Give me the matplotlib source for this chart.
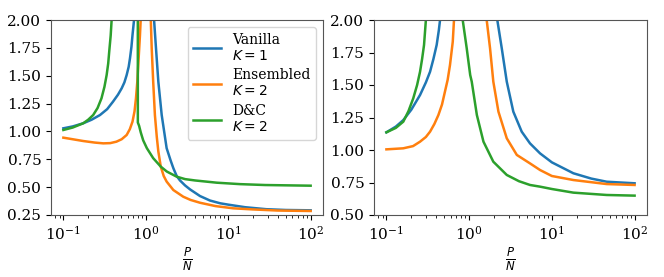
import matplotlib
matplotlib.use("Agg")
import matplotlib.pyplot as plt

plt.rcParams['font.family'] = ['DejaVu Serif']
plt.rcParams['mathtext.fontset'] = 'dejavusans'

# ---------------- Left panel data ----------------
L_van_x1 = [0.1, 0.13, 0.174, 0.22, 0.278, 0.34, 0.40, 0.46, 0.51, 0.55, 0.586, 0.62, 0.643, 0.67, 0.69, 0.72, 0.75]
L_van_y1 = [1.028, 1.045, 1.073, 1.105, 1.147, 1.20, 1.267, 1.33, 1.387, 1.44, 1.506, 1.58, 1.656, 1.76, 1.865, 2.0, 2.2]
L_van_x2 = [1.22, 1.26, 1.33, 1.42, 1.56, 1.79, 2.0, 2.16, 2.37, 2.6, 3.0, 3.44, 4.55, 6.0, 8.0, 10, 16, 29, 50, 100]
L_van_y2 = [2.3, 2.0, 1.746, 1.446, 1.147, 0.85, 0.74, 0.67, 0.60, 0.56, 0.515, 0.48, 0.42, 0.38, 0.355, 0.343, 0.32, 0.302, 0.295, 0.292]

L_ens_x1 = [0.1, 0.174, 0.24, 0.305, 0.37, 0.44, 0.51, 0.586, 0.64, 0.69, 0.73, 0.76, 0.79, 0.81, 0.85, 0.867, 0.89]
L_ens_y1 = [0.944, 0.914, 0.90, 0.893, 0.895, 0.908, 0.93, 0.968, 1.02, 1.088, 1.18, 1.297, 1.45, 1.596, 1.865, 2.0, 2.2]
L_ens_x2 = [1.12, 1.15, 1.18, 1.23, 1.29, 1.36, 1.42, 1.52, 1.65, 1.79, 2.16, 2.85, 3.5, 4.55, 7.0, 11.5, 20, 40, 100]
L_ens_y2 = [2.3, 2.0, 1.746, 1.446, 1.147, 0.95, 0.82, 0.684, 0.60, 0.55, 0.474, 0.414, 0.385, 0.36, 0.33, 0.31, 0.30, 0.29, 0.286]

L_dc_x1 = [0.1, 0.13, 0.174, 0.20, 0.23, 0.26, 0.29, 0.315, 0.335, 0.35, 0.36, 0.375, 0.385, 0.40]
L_dc_y1 = [1.013, 1.035, 1.073, 1.105, 1.147, 1.21, 1.297, 1.40, 1.506, 1.61, 1.716, 1.86, 2.0, 2.3]
L_dc_x2 = [0.80, 0.801, 0.83, 0.87, 0.93, 1.03, 1.23, 1.52, 1.8, 2.37, 3.0, 3.96, 7.25, 13.9, 28, 100]
L_dc_y2 = [2.3, 1.08, 1.05, 0.99, 0.92, 0.85, 0.76, 0.684, 0.64, 0.594, 0.572, 0.56, 0.54, 0.527, 0.519, 0.513]

# ---------------- Right panel data ----------------
R_van_x1 = [0.1, 0.13, 0.16, 0.2, 0.255, 0.3, 0.337, 0.37, 0.405, 0.43, 0.445, 0.46]
R_van_y1 = [1.136, 1.18, 1.23, 1.31, 1.423, 1.52, 1.602, 1.70, 1.808, 1.92, 2.0, 2.1]
R_van_x2 = [2.1, 2.19, 2.48, 2.85, 3.42, 4.32, 5.44, 7.2, 10, 18.2, 30, 46, 100]
R_van_y2 = [2.1, 2.0, 1.782, 1.526, 1.295, 1.141, 1.051, 0.974, 0.905, 0.821, 0.78, 0.756, 0.744]

R_ens_x1 = [0.1, 0.16, 0.21, 0.255, 0.3, 0.337, 0.38, 0.425, 0.47, 0.51, 0.55, 0.587, 0.634, 0.656, 0.68]
R_ens_y1 = [1.005, 1.013, 1.03, 1.064, 1.10, 1.141, 1.20, 1.269, 1.35, 1.449, 1.54, 1.654, 1.833, 2.0, 2.15]
R_ens_x2 = [1.58, 1.63, 1.79, 1.96, 2.26, 2.85, 3.77, 5.44, 7.2, 10, 18.2, 46, 100]
R_ens_y2 = [2.15, 2.0, 1.782, 1.526, 1.295, 1.090, 0.962, 0.897, 0.846, 0.80, 0.769, 0.738, 0.731]

R_dc_x1 = [0.1, 0.13, 0.16, 0.185, 0.211, 0.235, 0.255, 0.27, 0.285, 0.30, 0.31]
R_dc_y1 = [1.136, 1.17, 1.218, 1.30, 1.397, 1.50, 1.602, 1.70, 1.808, 2.0, 2.15]
R_dc_x2 = [0.82, 0.836, 0.935, 1.03, 1.075, 1.24, 1.49, 1.96, 2.85, 4.0, 5.44, 7.2, 10, 18.2, 46, 100]
R_dc_y2 = [2.1, 2.0, 1.782, 1.577, 1.526, 1.269, 1.064, 0.910, 0.808, 0.76, 0.731, 0.718, 0.70, 0.672, 0.654, 0.649]

labels = ["Vanilla\n$K=1$", "Ensembled\n$K=2$", "D&C\n$K=2$"]
colors = ["#1f77b4", "#ff7f0e", "#2ca02c"]

fig = plt.figure(figsize=(6.64, 2.77), dpi=100)
W, H = 664, 277
axL = fig.add_axes([51 / W, 1 - 215 / H, 272 / W, 195 / H])
axR = fig.add_axes([374 / W, 1 - 215 / H, 273 / W, 195 / H])

lw = 1.8
left_series = [
    ((L_van_x1, L_van_y1), (L_van_x2, L_van_y2)),
    ((L_ens_x1, L_ens_y1), (L_ens_x2, L_ens_y2)),
    ((L_dc_x1, L_dc_y1), (L_dc_x2, L_dc_y2)),
]
right_series = [
    ((R_van_x1, R_van_y1), (R_van_x2, R_van_y2)),
    ((R_ens_x1, R_ens_y1), (R_ens_x2, R_ens_y2)),
    ((R_dc_x1, R_dc_y1), (R_dc_x2, R_dc_y2)),
]

for (b1, b2), c, lab in zip(left_series, colors, labels):
    axL.plot(b1[0], b1[1], color=c, lw=lw, label=lab)
    axL.plot(b2[0], b2[1], color=c, lw=lw)
for (b1, b2), c in zip(right_series, colors):
    axR.plot(b1[0], b1[1], color=c, lw=lw)
    axR.plot(b2[0], b2[1], color=c, lw=lw)

for ax in (axL, axR):
    ax.set_xscale('log')
    ax.set_xlim(10 ** -1.15, 10 ** 2.15)
    ax.set_xticks([0.1, 1, 10, 100])
    ax.tick_params(labelsize=11)
    ax.set_xlabel(r"$\frac{P}{N}$", fontsize=12, labelpad=2)
    for s in ax.spines.values():
        s.set_color('#555555')

axL.set_ylim(0.25, 2.0)
axL.set_yticks([0.25, 0.5, 0.75, 1.0, 1.25, 1.5, 1.75, 2.0])
axR.set_ylim(0.5, 2.0)
axR.set_yticks([0.5, 0.75, 1.0, 1.25, 1.5, 1.75, 2.0])

axL.legend(loc='upper right', fontsize=10, handlelength=2.0, labelspacing=0.4,
           borderaxespad=0.5)

fig.savefig("out.png", dpi=100)
